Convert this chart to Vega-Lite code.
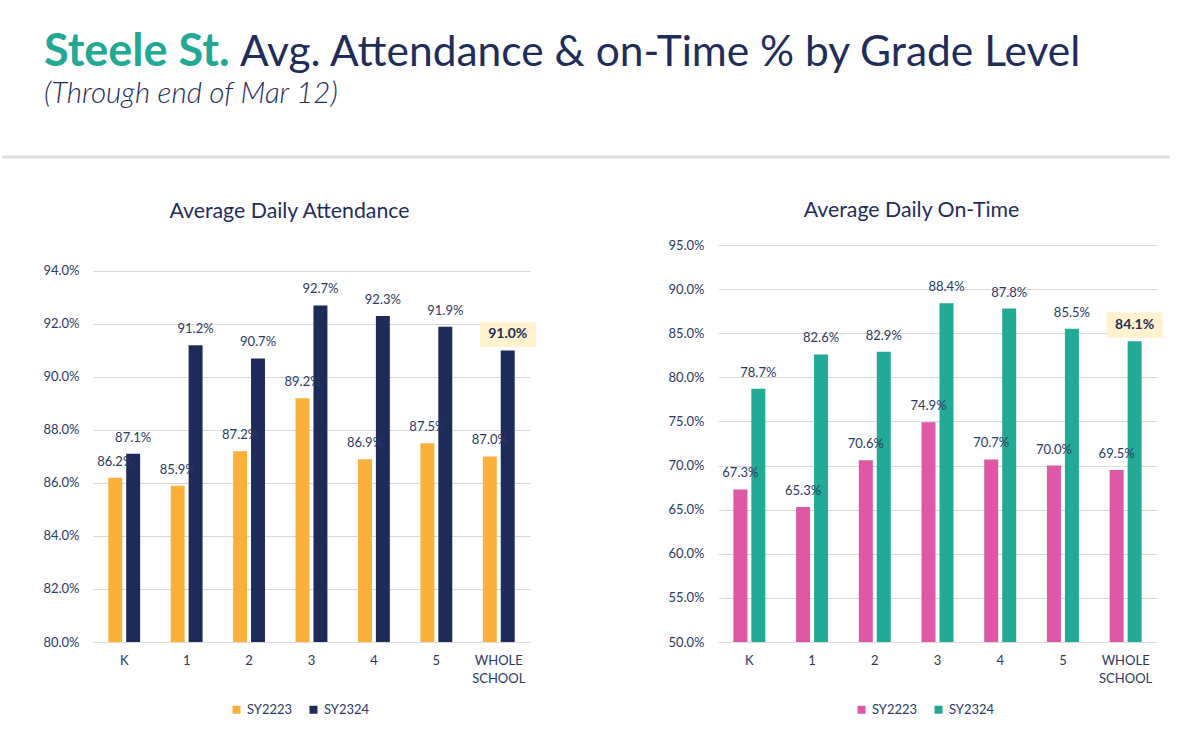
{
  "$schema": "https://vega.github.io/schema/vega-lite/v6.json",
  "description": "Steele St. average daily attendance and on-time rate by grade level.",
  "background": "white",
  "padding": {"left": 0, "top": 0, "right": 0, "bottom": 0},
  "config": {
    "font": "Lato",
    "view": {"stroke": null},
    "axis": {"labelFont": "Lato", "labelColor": "#2A3866", "labelFontSize": 13},
    "legend": {"labelFont": "Lato", "labelColor": "#2A3866"}
  },
  "datasets": {
    "header": [
      {"part": "school", "label": "Steele St."},
      {"part": "rest", "label": "Avg. Attendance & on-Time % by Grade Level"},
      {"part": "sub", "label": "(Through end of Mar 12)"}
    ],
    "attendance": [
      {"grade": "K", "year": "SY2223", "rate": 0.862, "highlight": false},
      {"grade": "K", "year": "SY2324", "rate": 0.871, "highlight": false},
      {"grade": "1", "year": "SY2223", "rate": 0.859, "highlight": false},
      {"grade": "1", "year": "SY2324", "rate": 0.912, "highlight": false},
      {"grade": "2", "year": "SY2223", "rate": 0.872, "highlight": false},
      {"grade": "2", "year": "SY2324", "rate": 0.907, "highlight": false},
      {"grade": "3", "year": "SY2223", "rate": 0.892, "highlight": false},
      {"grade": "3", "year": "SY2324", "rate": 0.927, "highlight": false},
      {"grade": "4", "year": "SY2223", "rate": 0.869, "highlight": false},
      {"grade": "4", "year": "SY2324", "rate": 0.923, "highlight": false},
      {"grade": "5", "year": "SY2223", "rate": 0.875, "highlight": false},
      {"grade": "5", "year": "SY2324", "rate": 0.919, "highlight": false},
      {"grade": "WHOLE SCHOOL", "year": "SY2223", "rate": 0.870, "highlight": false},
      {"grade": "WHOLE SCHOOL", "year": "SY2324", "rate": 0.910, "highlight": true}
    ],
    "ontime": [
      {"grade": "K", "year": "SY2223", "rate": 0.673, "highlight": false},
      {"grade": "K", "year": "SY2324", "rate": 0.787, "highlight": false},
      {"grade": "1", "year": "SY2223", "rate": 0.653, "highlight": false},
      {"grade": "1", "year": "SY2324", "rate": 0.826, "highlight": false},
      {"grade": "2", "year": "SY2223", "rate": 0.706, "highlight": false},
      {"grade": "2", "year": "SY2324", "rate": 0.829, "highlight": false},
      {"grade": "3", "year": "SY2223", "rate": 0.749, "highlight": false},
      {"grade": "3", "year": "SY2324", "rate": 0.884, "highlight": false},
      {"grade": "4", "year": "SY2223", "rate": 0.707, "highlight": false},
      {"grade": "4", "year": "SY2324", "rate": 0.878, "highlight": false},
      {"grade": "5", "year": "SY2223", "rate": 0.700, "highlight": false},
      {"grade": "5", "year": "SY2324", "rate": 0.855, "highlight": false},
      {"grade": "WHOLE SCHOOL", "year": "SY2223", "rate": 0.695, "highlight": false},
      {"grade": "WHOLE SCHOOL", "year": "SY2324", "rate": 0.841, "highlight": true}
    ]
  },
  "spacing": 40,
  "vconcat": [
    {
      "width": 1077,
      "height": 157,
      "data": {"name": "header"},
      "layer": [
        {
          "transform": [{"filter": "datum.part == 'school'"}],
          "mark": {"type": "text", "align": "left", "baseline": "alphabetic", "fontSize": 45, "fontWeight": "bold", "color": "#23A993"},
          "encoding": {"text": {"field": "label"}, "x": {"value": -49}, "y": {"value": 66}}
        },
        {
          "transform": [{"filter": "datum.part == 'rest'"}],
          "mark": {"type": "text", "align": "left", "baseline": "alphabetic", "fontSize": 42.5, "color": "#1F2D5A"},
          "encoding": {"text": {"field": "label"}, "x": {"value": 147}, "y": {"value": 66}}
        },
        {
          "transform": [{"filter": "datum.part == 'sub'"}],
          "mark": {"type": "text", "align": "left", "baseline": "alphabetic", "fontSize": 29.5, "fontStyle": "italic", "fontWeight": 300, "color": "#1F2D5A"},
          "encoding": {"text": {"field": "label"}, "x": {"value": -49}, "y": {"value": 103}}
        },
        {
          "transform": [{"filter": "datum.part == 'sub'"}],
          "mark": {"type": "rule", "color": "#DDDDDD", "strokeWidth": 3},
          "encoding": {"x": {"value": -91}, "x2": {"value": 1077}, "y": {"value": 157}}
        }
      ]
    },
    {
      "spacing": 131,
      "resolve": {
        "scale": {"x": "independent", "y": "independent", "xOffset": "independent", "color": "independent"},
        "legend": {"color": "independent"}
      },
      "hconcat": [
        {
          "width": 437,
          "height": 397,
          "title": {"text": "Average Daily Attendance", "fontSize": 21.3, "fontWeight": "normal", "color": "#1F2D5A", "offset": 23, "dx": -22, "frame": "group"},
          "data": {"name": "attendance"},
          "encoding": {
            "x": {
              "field": "grade", "type": "nominal", "title": null,
              "sort": ["K", "1", "2", "3", "4", "5", "WHOLE SCHOOL"],
              "scale": {"paddingInner": 0.49, "paddingOuter": 0.245},
              "axis": {"labelAngle": 0, "domain": false, "ticks": false, "labelPadding": 12, "labelLineHeight": 18,
                       "labelExpr": "datum.value == 'WHOLE SCHOOL' ? ['WHOLE', 'SCHOOL'] : datum.value"}
            },
            "xOffset": {"field": "year", "type": "nominal", "scale": {"paddingInner": 0.22}},
            "y": {
              "field": "rate", "type": "quantitative", "title": null,
              "scale": {"domain": [0.8, 0.9498], "nice": false, "zero": false},
              "axis": {"values": [0.8, 0.82, 0.84, 0.86, 0.88, 0.9, 0.92, 0.94], "format": ".1%", "domain": false, "ticks": false,
                       "labelPadding": 14, "gridColor": "#D9D9D9"}
            }
          },
          "layer": [
            {
              "mark": {"type": "bar", "clip": true},
              "encoding": {
                "color": {
                  "field": "year", "type": "nominal",
                  "scale": {"domain": ["SY2223", "SY2324"], "range": ["#FBB03B", "#1D2B58"]},
                  "legend": {"title": null, "orient": "none", "legendX": 137, "legendY": 458, "direction": "horizontal", "padding": 0,
                             "symbolType": "square", "symbolSize": 64, "labelFontSize": 13, "columnPadding": 14, "symbolStrokeWidth": 0}
                }
              }
            },
            {
              "transform": [{"filter": "datum.highlight"}],
              "mark": {"type": "point", "shape": "M-1,-1.02L1,-1.02L1,-0.125L-1,-0.125Z", "size": 3136, "filled": true, "color": "#FFF2CC", "opacity": 1, "strokeWidth": 0}
            },
            {
              "transform": [{"filter": "!datum.highlight"}],
              "mark": {"type": "text", "dy": -16, "baseline": "middle", "fontSize": 13, "color": "#2A3866"},
              "encoding": {"text": {"field": "rate", "type": "quantitative", "format": ".1%"}}
            },
            {
              "transform": [{"filter": "datum.highlight"}],
              "mark": {"type": "text", "dy": -16, "baseline": "middle", "fontSize": 14, "fontWeight": "bold", "color": "#1F2D5A"},
              "encoding": {"text": {"field": "rate", "type": "quantitative", "format": ".1%"}}
            }
          ]
        },
        {
          "width": 439,
          "height": 397,
          "title": {"text": "Average Daily On-Time", "fontSize": 21.3, "fontWeight": "normal", "color": "#1F2D5A", "offset": 18, "dx": -26, "frame": "group"},
          "data": {"name": "ontime"},
          "encoding": {
            "x": {
              "field": "grade", "type": "nominal", "title": null,
              "sort": ["K", "1", "2", "3", "4", "5", "WHOLE SCHOOL"],
              "scale": {"paddingInner": 0.49, "paddingOuter": 0.245},
              "axis": {"labelAngle": 0, "domain": false, "ticks": false, "labelPadding": 12, "labelLineHeight": 18,
                       "labelExpr": "datum.value == 'WHOLE SCHOOL' ? ['WHOLE', 'SCHOOL'] : datum.value"}
            },
            "xOffset": {"field": "year", "type": "nominal", "scale": {"paddingInner": 0.22}},
            "y": {
              "field": "rate", "type": "quantitative", "title": null,
              "scale": {"domain": [0.5, 0.95], "nice": false, "zero": false},
              "axis": {"values": [0.5, 0.55, 0.6, 0.65, 0.7, 0.75, 0.8, 0.85, 0.9, 0.95], "format": ".1%", "domain": false, "ticks": false,
                       "labelPadding": 14, "gridColor": "#D9D9D9"}
            }
          },
          "layer": [
            {
              "mark": {"type": "bar", "clip": true},
              "encoding": {
                "color": {
                  "field": "year", "type": "nominal",
                  "scale": {"domain": ["SY2223", "SY2324"], "range": ["#DD58A6", "#23AA96"]},
                  "legend": {"title": null, "orient": "none", "legendX": 137, "legendY": 458, "direction": "horizontal", "padding": 0,
                             "symbolType": "square", "symbolSize": 64, "labelFontSize": 13, "columnPadding": 14, "symbolStrokeWidth": 0}
                }
              }
            },
            {
              "transform": [{"filter": "datum.highlight"}],
              "mark": {"type": "point", "shape": "M-1,-1.02L1,-1.02L1,-0.125L-1,-0.125Z", "size": 3136, "filled": true, "color": "#FFF2CC", "opacity": 1, "strokeWidth": 0}
            },
            {
              "transform": [{"filter": "!datum.highlight"}],
              "mark": {"type": "text", "dy": -16, "baseline": "middle", "fontSize": 13, "color": "#2A3866"},
              "encoding": {"text": {"field": "rate", "type": "quantitative", "format": ".1%"}}
            },
            {
              "transform": [{"filter": "datum.highlight"}],
              "mark": {"type": "text", "dy": -16, "baseline": "middle", "fontSize": 14, "fontWeight": "bold", "color": "#1F2D5A"},
              "encoding": {"text": {"field": "rate", "type": "quantitative", "format": ".1%"}}
            }
          ]
        }
      ]
    }
  ]
}
